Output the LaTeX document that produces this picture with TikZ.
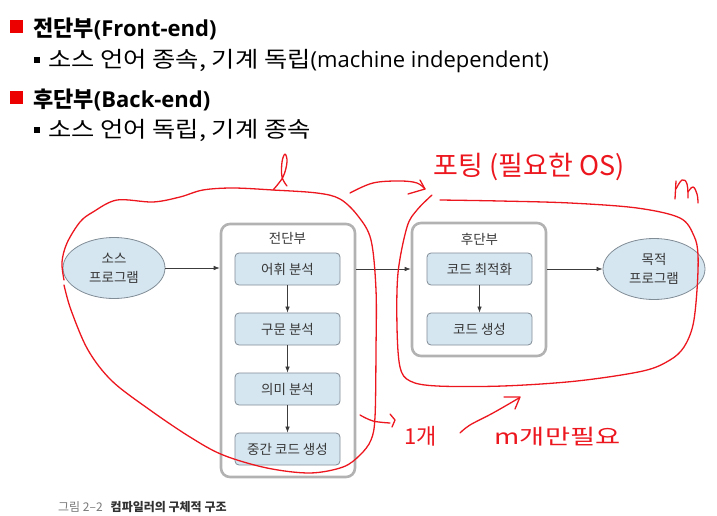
\documentclass[tikz,border=0pt]{standalone}
\usepackage{fontspec}
\setmainfont{Open Sans}
\newfontfamily\kr{Noto Sans CJK KR}
\usetikzlibrary{arrows.meta,shapes.geometric}

\definecolor{bulletred}{RGB}{236,0,0}
\definecolor{stagefill}{RGB}{214,230,240}
\definecolor{stageline}{RGB}{128,140,150}
\definecolor{groupline}{RGB}{178,178,178}
\definecolor{diagtext}{RGB}{55,55,55}
\definecolor{arrowgray}{RGB}{60,60,60}
\definecolor{ink}{RGB}{236,22,30}
\definecolor{capgray}{RGB}{120,120,120}
\definecolor{capdark}{RGB}{50,50,50}

% Korean run set a little wider, as in the slide font
\newcommand{\krwide}[1]{\scalebox{1.15}[1]{\kr #1}}

\begin{document}
\begin{tikzpicture}[x=1pt,y=-1pt,
  redsq/.style={fill=bulletred,minimum size=13pt,inner sep=0pt},
  smallsq/.style={fill=black,minimum size=6pt,inner sep=0pt},
  headline/.style={anchor=base west,inner sep=0pt,font=\fontsize{22}{26}\selectfont\bfseries},
  bodyline/.style={anchor=base west,inner sep=0pt,font=\fontsize{22}{26}\selectfont},
  stage/.style={draw=stageline,fill=stagefill,rounded corners=4pt,line width=0.8pt,
    minimum width=105pt,minimum height=32pt,inner sep=0pt,
    font=\kr\fontsize{13.5}{16}\selectfont,text=diagtext},
  group/.style={draw=groupline,line width=2.6pt,rounded corners=9pt,inner sep=0pt,minimum width=134pt},
  grouptitle/.style={inner sep=0pt,font=\kr\fontsize{13.5}{16}\selectfont,text=diagtext},
  prog/.style={ellipse,draw=stageline,fill=stagefill,line width=0.8pt,
    minimum width=102pt,minimum height=61pt,inner sep=0pt,align=center,
    font=\kr\fontsize{13.5}{19}\selectfont,text=diagtext},
  flow/.style={draw=arrowgray,line width=0.7pt,-{Latex[length=6pt,width=4.5pt]}},
  hand/.style={draw=ink,line width=1.3pt,line cap=round,line join=round},
  handtext/.style={inner sep=0pt,text=ink}
]
\useasboundingbox (0,0) rectangle (717,516);

% heading list
\node[redsq] (b1) at (16.5,26.5) {};
\node[headline] (h1) at (33,36.5) {{\kr\bfseries 전단부}(Front-end)};
\node[smallsq] (s1) at (36.5,60) {};
\node[bodyline] (l1) at (48,68) {\krwide{소스 언어 종속, 기계 독립}(machine independent)};
\node[redsq] (b2) at (16.5,97.5) {};
\node[headline] (h2) at (33,107.5) {{\kr\bfseries 후단부}(Back-end)};
\node[smallsq] (s2) at (36.5,130) {};
\node[bodyline] (l2) at (48,138) {\krwide{소스 언어 독립, 기계 종속}};

% compiler structure
\node[group,minimum height=253pt] (front) at (288,350.5) {};
\node[grouptitle] (fronttitle) at (287.5,238.5) {전단부};
\node[stage] (lex) at (287.5,269) {어휘 분석};
\node[stage] (syn) at (287.5,329) {구문 분석};
\node[stage] (sem) at (287.5,389) {의미 분석};
\node[stage] (mid) at (287.5,449) {중간 코드 생성};

\node[group,minimum height=133pt] (back) at (479,289.5) {};
\node[grouptitle] (backtitle) at (479.5,239) {후단부};
\node[stage] (opt) at (479.5,269) {코드 최적화};
\node[stage] (gen) at (479.5,329) {코드 생성};

\node[prog] (src) at (114,268) {소스\\프로그램};
\node[prog] (tgt) at (654,269) {목적\\프로그램};

\draw[flow] (src.east) -- (src.east -| front.west);
\draw[flow] (lex -| front.east) -- (lex -| back.west);
\draw[flow] (opt -| back.east) -- (tgt.west);
\draw[flow] (lex) -- (syn);
\draw[flow] (syn) -- (sem);
\draw[flow] (sem) -- (mid);
\draw[flow] (opt) -- (gen);

% caption
\node[anchor=base west,inner sep=0pt,font=\kr\fontsize{12}{14}\selectfont] (cap) at (58,511.5)
  {\textcolor{capgray}{그림 2–2}\hspace{8pt}\textcolor{capdark}{\bfseries 컴파일러의 구체적 구조}};

% pen annotations: loop around the front end
\draw[hand] plot[smooth,tension=0.55] coordinates {
  (64,280) (62,262) (67,243) (80,222) (93,212) (117,200) (153,202) (180,197)
  (203,190) (233,188) (273,190) (317,193) (340,199) (358,216) (371,240)
  (376,290) (376,350) (375,417) (371,440) (360,455) (343,467) (310,473)
  (267,468) (223,455) (190,437) (150,410) (112,381) (88,350) (71,310) (64,285)};
% the letter l on the loop
\draw[hand] plot[smooth,tension=0.6] coordinates {
  (273,190) (283,177) (287,162) (285,154) (282,162) (282,177) (287,186)};

% arrow over to the back end
\draw[hand] plot[smooth,tension=0.6] coordinates {(350,193) (373,183) (400,181) (417,183) (425,189)};
\draw[hand] (420,180) -- (425,189) -- (408,194);

% loop around the back end and the target program
\draw[hand] plot[smooth,tension=0.55] coordinates {
  (432,195) (417,210) (407,227) (398,273) (397,327) (400,367) (410,381)
  (437,386) (503,386) (577,381) (643,371) (670,360) (684,347) (693,325)
  (697,290) (698,255) (694,236) (680,218) (637,208) (570,203) (500,201) (440,200)};

% letter m
\draw[hand] (676,181) -- (675,199);
\draw[hand] plot[smooth,tension=0.7] coordinates {(676,189) (682,180) (687,184) (688,198)};
\draw[hand] plot[smooth,tension=0.7] coordinates {(688,192) (693,187) (697,194) (698,203)};

\node[handtext,font=\kr\fontsize{27}{30}\selectfont] (port) at (529,167) {포팅 (필요한 OS)};

% arrow to "1개"
\draw[hand] plot[smooth,tension=0.6] coordinates {(360,415) (373,421) (390,423)};
\draw[hand] (390,414) -- (395,420) -- (392,427);
\node[handtext,font=\kr\fontsize{22}{24}\selectfont] (one) at (421,436) {1개};

% arrow from "m개만필요" up to the back-end loop
\draw[hand] plot[smooth,tension=0.6] coordinates {(460,433) (470,425) (493,413) (519,398)};
\draw[hand] (504,397) -- (520,397) -- (515,409);
\node[handtext,font=\kr\fontsize{21}{24}\selectfont] (many) at (557.5,437) {\scalebox{1.3}[1]{m개만필요}};
\end{tikzpicture}
\end{document}
